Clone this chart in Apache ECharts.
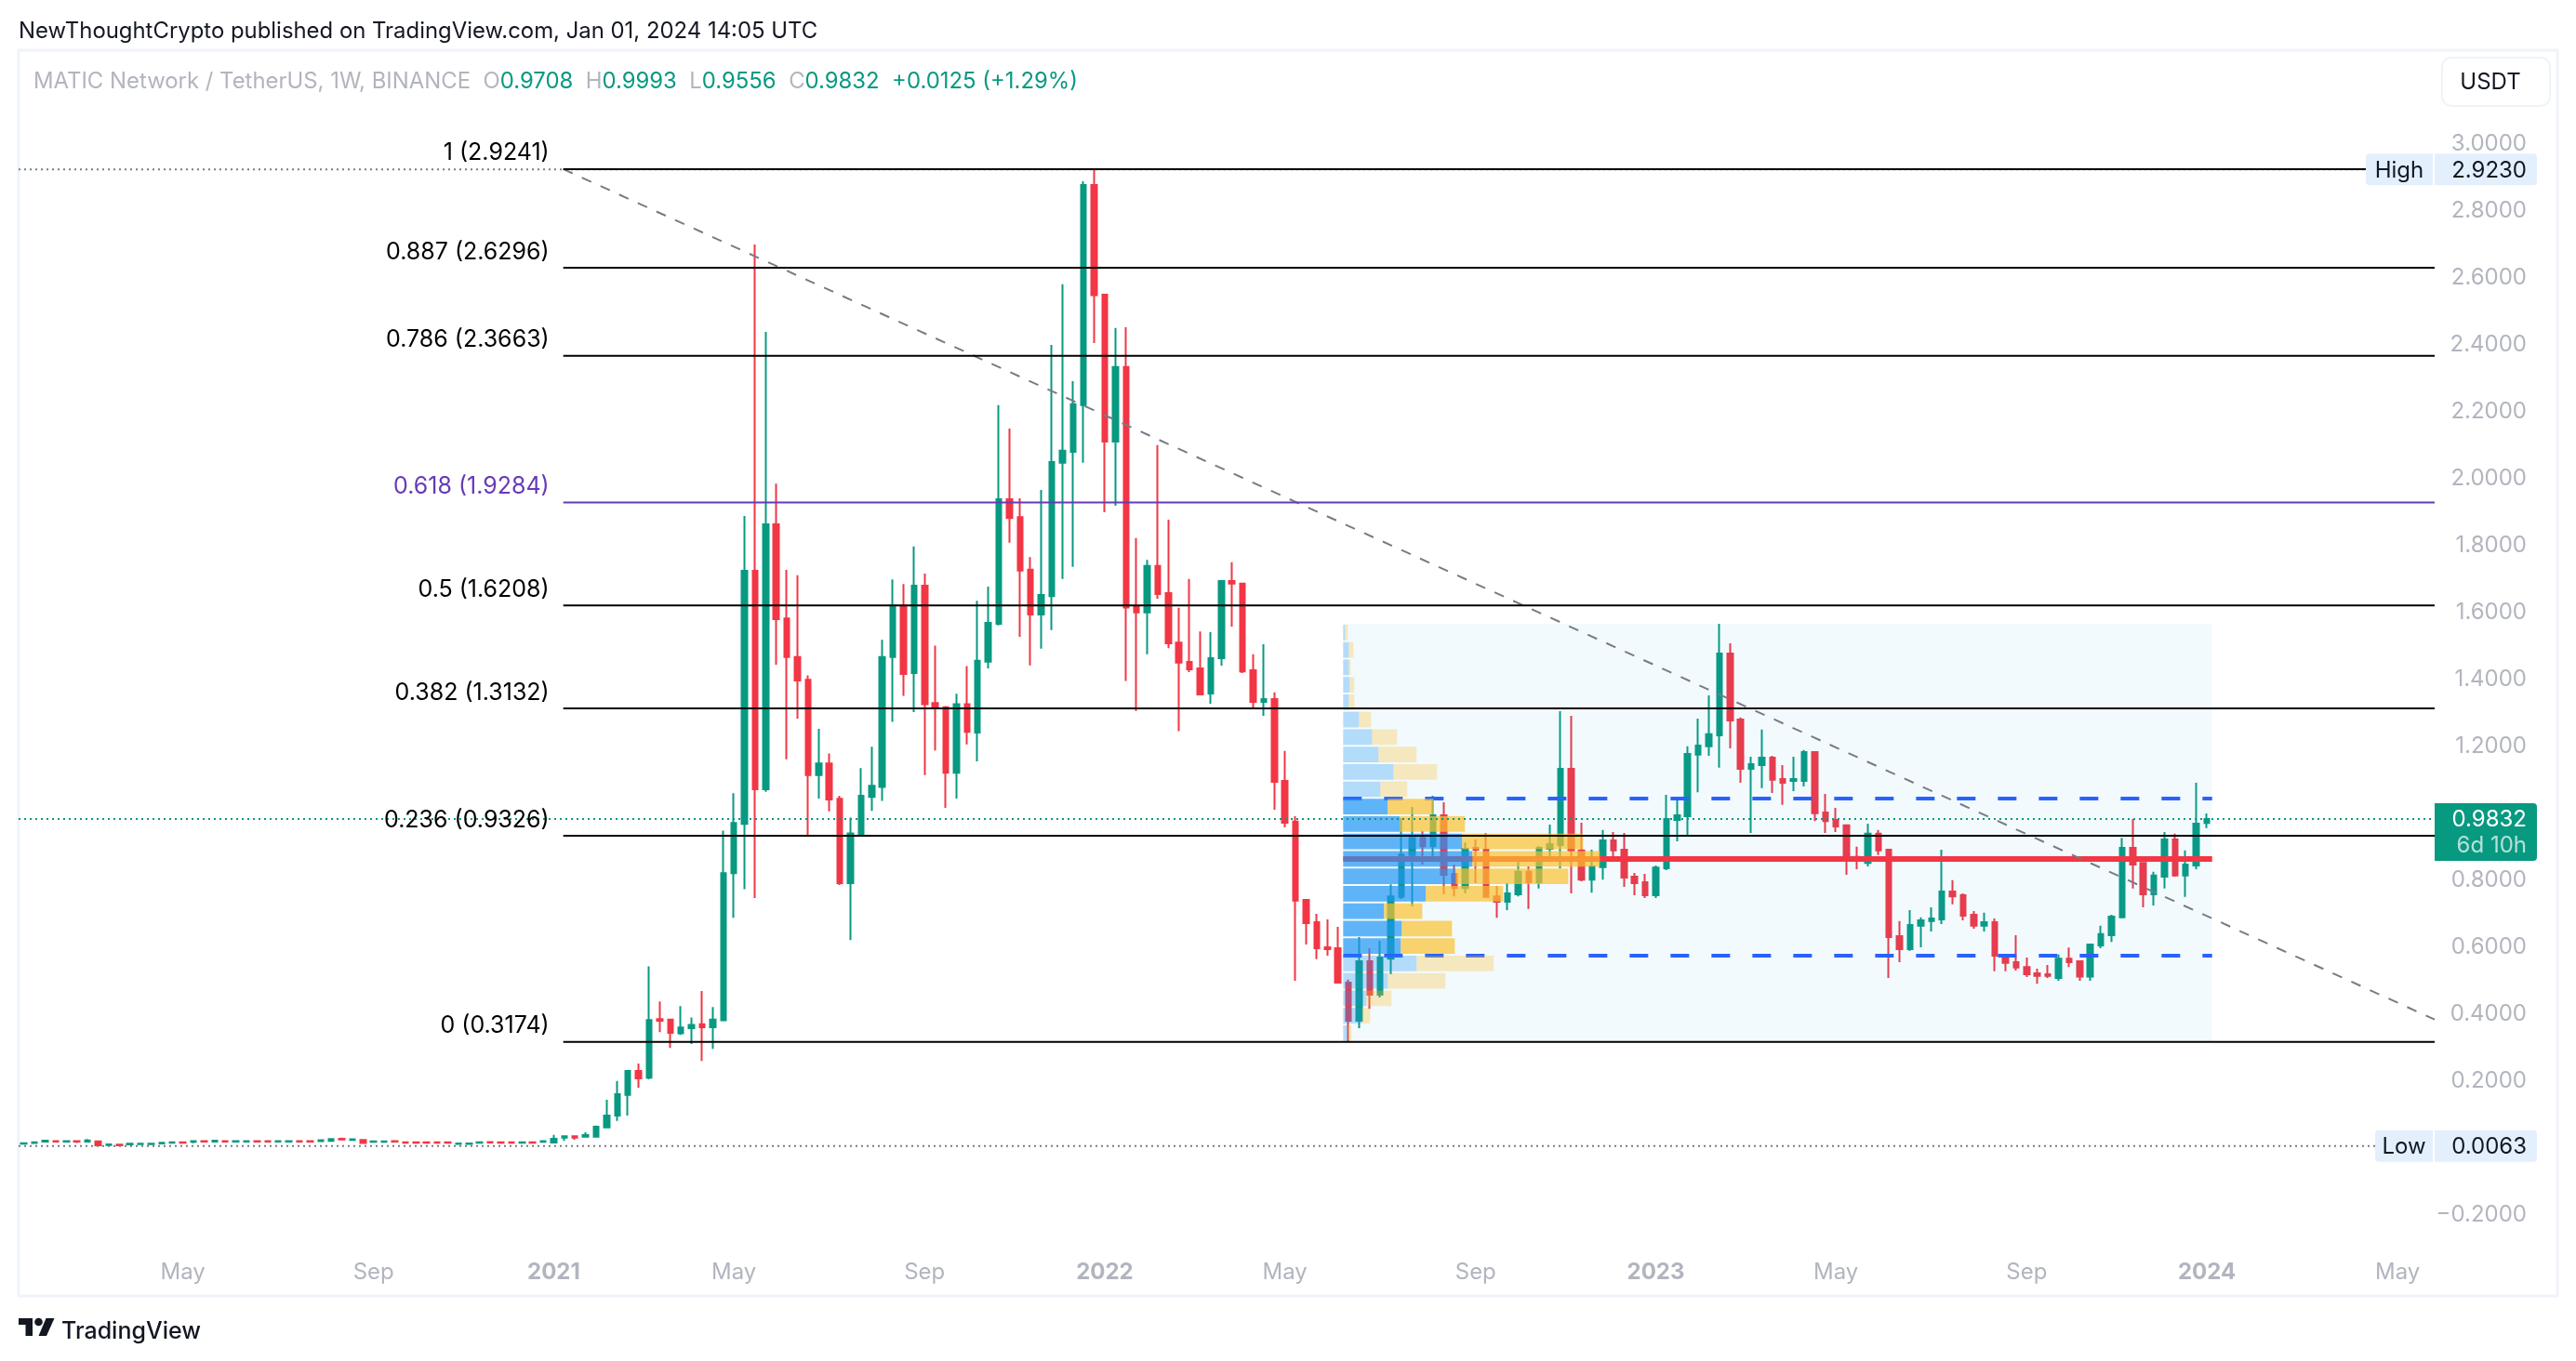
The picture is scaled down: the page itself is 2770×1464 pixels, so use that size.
<!DOCTYPE html>
<html>
<head>
<meta charset="utf-8">
<title>MATICUSDT 1W</title>
<script src="https://cdn.jsdelivr.net/npm/echarts@6/dist/echarts.min.js"></script>
<style>
  html, body { margin: 0; padding: 0; background: #fff; }
  #chart { width: 100vw; height: 100vh; }
</style>
</head>
<body>
<div id="chart"></div>
<script>
// weekly candles, first week is 2020-01-20
const firstWeek = '2020-01-20';
const totalWeeks = 228;

const opens = [
  .0130,.0150,.0190,.0205,.0190,.0205,.0195,.0200,.0090,.0100,
  .0110,.0115,.0115,.0140,.0160,.0175,.0185,.0205,.0195,.0205,
  .0190,.0190,.0205,.0205,.0190,.0190,.0205,.0205,.0205,.0215,
  .0275,.0240,.0245,.0185,.0185,.0205,.0175,.0175,.0175,.0175,
  .0175,.0125,.0125,.0160,.0180,.0175,.0175,.0160,.0175,.0185,
  .0166,.0314,.0351,.0342,.0342,.0619,.0971,.1591,.2304,.2104,
  .385,.384,.343,.358,.370,.361,.382,.821,.968,1.7245,
  1.072,1.8633,1.582,1.467,1.399,1.114,1.149,1.043,.791,.937,
  1.049,1.079,1.467,1.620,1.419,1.680,1.329,1.317,1.121,1.326,
  1.241,1.453,1.566,1.938,1.885,1.728,1.594,1.649,2.047,2.080,
  2.219,2.877,2.549,2.110,2.333,1.617,1.600,1.739,1.658,1.510,
  1.452,1.433,1.358,1.463,1.694,1.686,1.427,1.333,1.341,1.097,
  .975,.741,.675,.600,.597,.494,.380,.558,.458,.566,
  .750,.875,.927,.902,.994,.819,.777,.897,.891,.752,
  .736,.758,.825,.794,.894,.905,1.133,.889,.802,.839,
  .919,.891,.811,.794,.755,.836,.980,.991,1.175,1.200,
  1.233,1.477,1.280,1.133,1.144,1.166,1.102,1.097,1.097,1.183,
  1.002,.980,.964,.870,.852,.939,.891,.633,.594,.664,
  .678,.683,.766,.755,.697,.664,.675,.575,.555,.541,
  .522,.519,.508,.566,.558,.512,.605,.636,.689,.897,
  .852,.758,.811,.922,.814,.844,.9708
];
const closes = [
  .0146,.0170,.0220,.0190,.0205,.0190,.0225,.0080,.0110,.0085,
  .0130,.0130,.0130,.0160,.0175,.0160,.0210,.0190,.0220,.0190,
  .0205,.0205,.0190,.0190,.0205,.0205,.0190,.0190,.0235,.0270,
  .0255,.0265,.0150,.0200,.0200,.0190,.0160,.0160,.0160,.0160,
  .0155,.0140,.0140,.0175,.0165,.0160,.0160,.0175,.0160,.0205,
  .0277,.0351,.0314,.0388,.0638,.0971,.1610,.2304,.2082,.3825,
  .380,.344,.360,.368,.361,.384,.821,.971,1.7245,1.072,
  1.8633,1.580,1.467,1.397,1.114,1.149,1.041,.791,.940,1.052,
  1.082,1.467,1.620,1.416,1.680,1.326,1.317,1.121,1.326,1.243,
  1.456,1.569,1.938,1.882,1.725,1.594,1.652,2.049,2.083,2.222,
  2.877,2.548,2.110,2.333,1.615,1.600,1.739,1.655,1.508,1.450,
  1.430,1.355,1.463,1.694,1.686,1.424,1.333,1.341,1.094,.972,
  .739,.672,.597,.594,.494,.380,.558,.458,.569,.752,
  .877,.927,.902,.994,.816,.777,.894,.891,.750,.736,
  .761,.825,.794,.897,.908,1.133,.889,.802,.841,.919,
  .889,.808,.791,.755,.838,.983,.994,1.177,1.202,1.236,
  1.477,1.277,1.133,1.147,1.166,1.100,1.091,1.102,1.183,1.000,
  .977,.961,.861,.858,.939,.889,.630,.594,.666,.680,
  .686,.766,.752,.694,.664,.675,.575,.553,.539,.519,
  .514,.514,.566,.555,.512,.608,.639,.691,.897,.847,
  .758,.814,.922,.814,.847,.969,.9832
];
const highs = [
  .0150,.0175,.0250,.0205,.0210,.0205,.0270,.0210,.0115,.0105,
  .0135,.0135,.0135,.0165,.0180,.0180,.0215,.0210,.0250,.0210,
  .0210,.0210,.0210,.0210,.0210,.0210,.0210,.0210,.0240,.0300,
  .0310,.0270,.0250,.0205,.0205,.0210,.0180,.0180,.0180,.0180,
  .0180,.0145,.0145,.0180,.0185,.0180,.0180,.0180,.0180,.0210,
  .0397,.0369,.0369,.0471,.0675,.1443,.2008,.2332,.2526,.5431,
  .438,.384,.424,.390,.469,.421,.948,1.060,1.888,2.699,
  2.438,1.985,1.727,1.711,1.412,1.252,1.179,1.052,.987,1.135,
  1.199,1.518,1.699,1.685,1.797,1.716,1.501,1.320,1.357,1.440,
  1.635,1.677,2.219,2.149,1.941,1.765,1.966,2.399,2.580,2.291,
  2.888,2.923,2.552,2.450,2.452,1.822,1.757,2.100,1.877,1.614,
  1.700,1.543,1.541,1.694,1.750,1.689,1.475,1.505,1.361,1.186,
  .991,.741,.700,.683,.661,.503,.630,.597,.619,.788,
  .986,1.019,.947,1.052,1.033,.847,.913,.922,.941,.783,
  .791,.855,.841,.902,.966,1.305,1.291,.972,.891,.950,
  .944,.941,.822,.819,.844,1.055,1.041,1.200,1.283,1.352,
  1.566,1.508,1.286,1.169,1.250,1.172,1.144,1.169,1.189,1.183,
  1.058,1.016,.966,.900,.969,.950,.891,.678,.711,.689,
  .719,.891,.800,.761,.708,.703,.686,.575,.636,.569,
  .536,.547,.578,.599,.558,.611,.664,.697,.927,.983,
  .852,.825,.944,.939,.889,1.091,.9993
];
const lows = [
  .0130,.0150,.0180,.0185,.0185,.0150,.0190,.0075,.0085,.0080,
  .0105,.0110,.0110,.0140,.0155,.0140,.0145,.0185,.0190,.0185,
  .0185,.0185,.0185,.0185,.0185,.0185,.0185,.0185,.0200,.0210,
  .0240,.0235,.0145,.0180,.0180,.0185,.0155,.0155,.0155,.0155,
  .0130,.0120,.0120,.0155,.0160,.0155,.0155,.0155,.0155,.0180,
  .0166,.0212,.0249,.0342,.0342,.0591,.0814,.0971,.1804,.2056,
  .346,.299,.338,.311,.260,.296,.380,.688,.773,.747,
  1.064,1.444,1.161,1.283,.935,1.044,1.006,.786,.621,.935,
  1.007,1.037,1.273,1.351,1.302,1.114,1.188,1.016,1.044,1.206,
  1.155,1.433,1.561,1.808,1.527,1.442,1.492,1.547,1.700,1.736,
  2.047,2.405,1.899,1.919,1.395,1.306,1.475,1.641,1.493,1.245,
  1.422,1.352,1.327,1.441,1.558,1.419,1.316,1.291,1.011,.958,
  .500,.608,.564,.575,.494,.317,.358,.416,.450,.519,
  .744,.722,.847,.872,.758,.752,.761,.791,.750,.688,
  .711,.752,.714,.775,.872,.836,.761,.797,.763,.802,
  .869,.780,.755,.747,.747,.830,.916,.930,1.063,1.172,
  1.136,1.194,1.091,.941,1.075,1.061,1.025,1.066,1.080,.977,
  .941,.944,.816,.833,.841,.875,.508,.555,.589,.600,
  .647,.669,.728,.680,.655,.647,.528,.528,.530,.511,
  .491,.508,.500,.541,.500,.500,.597,.616,.689,.775,
  .719,.725,.775,.811,.750,.833,.9556
];

const xTicks = [
  ['2020-05-04', 'May'], ['2020-09-07', 'Sep'], ['2021-01-04', '2021'],
  ['2021-05-03', 'May'], ['2021-09-06', 'Sep'], ['2022-01-03', '2022'],
  ['2022-05-02', 'May'], ['2022-09-05', 'Sep'], ['2023-01-02', '2023'],
  ['2023-05-01', 'May'], ['2023-09-04', 'Sep'], ['2024-01-01', '2024'],
  ['2024-05-06', 'May']
];
const yTicks = [-0.2, 0.2, 0.4, 0.6, 0.8, 1.2, 1.4, 1.6, 1.8, 2.0, 2.2, 2.4, 2.6, 2.8, 3.0];

// fibonacci levels
const fibLevels = ['1', '0.887', '0.786', '0.618', '0.5', '0.382', '0.236', '0'];
const fibPrices = [2.9241, 2.6296, 2.3663, 1.9284, 1.6208, 1.3132, 0.9326, 0.3174];
const fibStartWeek = 51.4;

// volume profile, bottom row first, widths are in weeks of the time axis
const vpStartWeek = 125;
const vpEndWeek = 207;
const vpLow = 0.3174;
const vpHigh = 1.566;
const vpUp = [.44,1.76,2.19,4.21,6.93,5.44,5.53,3.86,7.81,10.62,12.2,11.23,5.35,4.21,3.51,4.74,3.33,2.72,1.49,.53,.61,.53,.53,.18];
const vpDown = [.35,.79,2.37,5.44,7.28,5.09,4.74,3.6,7.28,10.62,12.02,11.41,6.14,4.3,2.54,4.12,3.6,2.37,1.14,.53,.44,.18,.44,.26];
const valueAreaRows = [5, 13];
const pocPrice = 0.8636;
const vahPrice = 1.0441;
const valPrice = 0.5747;

// dashed trend line from the top of the fib
const trendStart = [51.4, 2.9241];
const trendEnd = [228, 0.384];

const lastPrice = 0.9832;
const highPrice = 2.923;
const lowPrice = 0.0063;

const FONT = 'Inter, "Noto Sans", sans-serif';
const UP = '#089981';
const DOWN = '#f23645';
const GREY = '#b2b5be';
const INK = '#131722';

// week list for the category axis, also runs past the last candle
const weeks = [];
for (let i = 0; i < totalWeeks; i++) {
  const d = new Date(Date.parse(firstWeek + 'T00:00:00Z') + i * 7 * 86400000);
  weeks.push(d.toISOString().slice(0, 10));
}
const tickMap = {};
xTicks.forEach(t => { tickMap[t[0]] = t[1]; });

const candles = opens.map((o, i) => [o, closes[i], lows[i], highs[i]]);

const myChart = echarts.init(document.getElementById('chart'));

function lineEl(a, b, stroke, width, dash) {
  return {
    type: 'line',
    shape: { x1: a[0], y1: a[1], x2: b[0], y2: b[1] },
    style: { stroke: stroke, lineWidth: width, lineDash: dash || null }
  };
}

function tag(y, name, value) {
  const w = name === 'High' ? 72 : 62;
  return [
    { type: 'rect', shape: { x: 2614, y: y - 17, width: 6, height: 34 }, style: { fill: '#fff' } },
    { type: 'rect', shape: { x: 2618, y: y - 17, width: 110, height: 34, r: [0, 4, 4, 0] }, style: { fill: '#e3effd' } },
    { type: 'text', style: { text: value, x: 2717, y: y + 1, fill: INK, font: '24px ' + FONT, align: 'right', verticalAlign: 'middle' } },
    { type: 'rect', shape: { x: 2616 - w, y: y - 17, width: w, height: 34, r: [4, 0, 0, 4] }, style: { fill: '#e3effd' } },
    { type: 'text', style: { text: name, x: 2616 - w / 2, y: y + 1, fill: INK, font: '24px ' + FONT, align: 'center', verticalAlign: 'middle' } }
  ];
}

const option = {
  animation: false,
  backgroundColor: '#fff',
  grid: { left: 20, width: 2598, top: 82.6, height: 1296.4 },
  xAxis: [
    {
      type: 'category',
      data: weeks,
      boundaryGap: true,
      axisLine: { show: false },
      axisTick: { show: false },
      splitLine: { show: false },
      axisLabel: {
        inside: true,
        margin: -2,
        color: GREY,
        fontFamily: FONT,
        fontSize: 24,
        hideOverlap: false,
        interval: (i, v) => tickMap[v] !== undefined,
        formatter: v => {
          const t = tickMap[v];
          return /^\d/.test(t) ? '{b|' + t + '}' : t;
        },
        rich: { b: { fontWeight: 700, color: GREY, fontFamily: FONT, fontSize: 24 } }
      }
    },
    { type: 'value', min: 0, max: totalWeeks, show: false }
  ],
  yAxis: {
    type: 'value',
    position: 'right',
    min: -0.4,
    max: 3.2,
    axisLine: { show: false },
    axisTick: { show: false },
    splitLine: { show: false },
    axisLabel: {
      customValues: yTicks,
      margin: 99,
      align: 'right',
      padding: [8, 0, 0, 0],
      color: GREY,
      fontFamily: FONT,
      fontSize: 24,
      formatter: v => (v < 0 ? '\u2212' + Math.abs(v).toFixed(4) : v.toFixed(4))
    }
  },
  series: [
    {
      name: 'MATICUSDT',
      type: 'candlestick',
      z: 2,
      barWidth: 6,
      data: candles,
      itemStyle: { color: UP, color0: DOWN, borderColor: UP, borderColor0: DOWN, borderWidth: 2 }
    },
    {
      // profile box, poc and value area lines go under the bars
      name: 'profile base',
      type: 'custom',
      xAxisIndex: 1,
      z: 3,
      silent: true,
      data: [[vpStartWeek, vpHigh]],
      renderItem: (params, api) => {
        const tl = api.coord([vpStartWeek, vpHigh]);
        const br = api.coord([vpEndWeek, vpLow]);
        return {
          type: 'group',
          children: [
            { type: 'rect', shape: { x: tl[0], y: tl[1], width: br[0] - tl[0], height: br[1] - tl[1] }, style: { fill: 'rgba(33,170,243,0.06)' } },
            lineEl(api.coord([vpStartWeek, vahPrice]), api.coord([vpEndWeek, vahPrice]), '#2962ff', 4, [20, 24]),
            lineEl(api.coord([vpStartWeek, valPrice]), api.coord([vpEndWeek, valPrice]), '#2962ff', 4, [20, 24]),
            lineEl(api.coord([vpStartWeek, pocPrice]), api.coord([vpEndWeek, pocPrice]), DOWN, 6)
          ]
        };
      }
    },
    {
      name: 'profile rows',
      type: 'custom',
      xAxisIndex: 1,
      z: 4,
      silent: true,
      data: vpUp.map((v, i) => [vpStartWeek, i]),
      renderItem: (params, api) => {
        const i = params.dataIndex;
        const rowH = (vpHigh - vpLow) / vpUp.length;
        const inVa = i >= valueAreaRows[0] && i <= valueAreaRows[1];
        const a = inVa ? 0.7 : 0.3;
        const y1 = api.coord([0, vpLow + (i + 1) * rowH])[1] + 1;
        const y2 = api.coord([0, vpLow + i * rowH])[1] - 1;
        const x0 = api.coord([vpStartWeek, 0])[0];
        const x1 = api.coord([vpStartWeek + vpUp[i], 0])[0];
        const x2 = api.coord([vpStartWeek + vpUp[i] + vpDown[i], 0])[0];
        return {
          type: 'group',
          children: [
            { type: 'rect', shape: { x: x0, y: y1, width: x1 - x0, height: y2 - y1 }, style: { fill: 'rgba(33,150,243,' + a + ')' } },
            { type: 'rect', shape: { x: x1, y: y1, width: x2 - x1, height: y2 - y1 }, style: { fill: 'rgba(251,192,45,' + a + ')' } }
          ]
        };
      }
    },
    {
      name: 'price lines',
      type: 'custom',
      xAxisIndex: 1,
      z: 5,
      silent: true,
      data: [[0, lastPrice]],
      renderItem: (params, api) => ({
        type: 'group',
        children: [
          lineEl(api.coord([0, lastPrice]), api.coord([totalWeeks, lastPrice]), UP, 2, [2, 4]),
          lineEl(api.coord([0, highPrice]), api.coord([totalWeeks, highPrice]), '#787b86', 2, [2, 4]),
          lineEl(api.coord([0, lowPrice]), api.coord([totalWeeks, lowPrice]), '#787b86', 2, [2, 4]),
          lineEl(api.coord(trendStart), api.coord(trendEnd), '#787b86', 2, [11, 11])
        ]
      })
    },
    {
      name: 'fib',
      type: 'custom',
      xAxisIndex: 1,
      z: 6,
      silent: true,
      data: fibPrices.map(p => [fibStartWeek, p]),
      renderItem: (params, api) => {
        const i = params.dataIndex;
        const color = fibLevels[i] === '0.618' ? '#673ab7' : '#000';
        const a = api.coord([fibStartWeek, fibPrices[i]]);
        const b = api.coord([totalWeeks, fibPrices[i]]);
        return {
          type: 'group',
          children: [
            lineEl(a, b, color, 2),
            {
              type: 'text',
              style: {
                text: fibLevels[i] + ' (' + fibPrices[i].toFixed(4) + ')',
                x: a[0] - 15,
                y: a[1] - 17,
                fill: color,
                font: '25px ' + FONT,
                align: 'right',
                verticalAlign: 'middle'
              }
            }
          ]
        };
      }
    },
    {
      // tags on the price scale
      name: 'tags',
      type: 'custom',
      xAxisIndex: 1,
      z: 7,
      silent: true,
      clip: false,
      data: [[totalWeeks, lastPrice]],
      renderItem: (params, api) => {
        const yLast = api.coord([totalWeeks, lastPrice])[1];
        const children = [
          ...tag(api.coord([totalWeeks, highPrice])[1], 'High', highPrice.toFixed(4)),
          ...tag(api.coord([totalWeeks, lowPrice])[1], 'Low', lowPrice.toFixed(4)),
          { type: 'rect', shape: { x: 2618, y: yLast - 17, width: 110, height: 62, r: [0, 4, 4, 0] }, style: { fill: UP } },
          { type: 'text', style: { text: lastPrice.toFixed(4), x: 2717, y: yLast + 1, fill: '#fff', font: '24px ' + FONT, align: 'right', verticalAlign: 'middle' } },
          { type: 'text', style: { text: '6d 10h', x: 2717, y: yLast + 29, fill: 'rgba(255,255,255,0.7)', font: '24px ' + FONT, align: 'right', verticalAlign: 'middle' } }
        ];
        return { type: 'group', children: children };
      }
    }
  ],
  graphic: [
    { type: 'text', x: 20, y: 34, style: { text: 'NewThoughtCrypto published on TradingView.com, Jan 01, 2024 14:05 UTC', fill: INK, font: '23.9px ' + FONT, verticalAlign: 'middle' } },
    { type: 'rect', shape: { x: 20, y: 54, width: 2730, height: 1340 }, style: { fill: 'none', stroke: '#f0f3fa', lineWidth: 3 }, z: -1 },
    {
      type: 'text',
      x: 36,
      y: 88,
      style: {
        text: '{g|MATIC Network / TetherUS, 1W, BINANCE}  {g|O}{v|0.9708}  {g|H}{v|0.9993}  {g|L}{v|0.9556}  {g|C}{v|0.9832}  {v|+0.0125 (+1.29%)}',
        font: '23.9px ' + FONT,
        verticalAlign: 'middle',
        rich: {
          g: { fill: GREY, font: '23.9px ' + FONT },
          v: { fill: UP, font: '23.9px ' + FONT }
        }
      }
    },
    { type: 'rect', shape: { x: 2626, y: 62, width: 116, height: 52, r: 10 }, style: { fill: '#fff', stroke: '#f0f3fa', lineWidth: 2 } },
    { type: 'text', x: 2678, y: 89, style: { text: 'USDT', fill: INK, font: '24px ' + FONT, align: 'center', verticalAlign: 'middle' } },
    // logo pieces
    { type: 'polygon', shape: { points: [[35, 1437], [27.5, 1437], [27.5, 1425], [20, 1425], [20, 1418], [35, 1418]] }, style: { fill: INK } },
    { type: 'polygon', shape: { points: [[50, 1437], [41.5, 1437], [49.5, 1418], [58.5, 1418]] }, style: { fill: INK } },
    { type: 'circle', shape: { cx: 41.5, cy: 1422, r: 4.3 }, style: { fill: INK } },
    { type: 'text', x: 66, y: 1432, style: { text: 'TradingView', fill: INK, font: '500 25px ' + FONT, verticalAlign: 'middle' } }
  ]
};

myChart.setOption(option);
</script>
</body>
</html>
